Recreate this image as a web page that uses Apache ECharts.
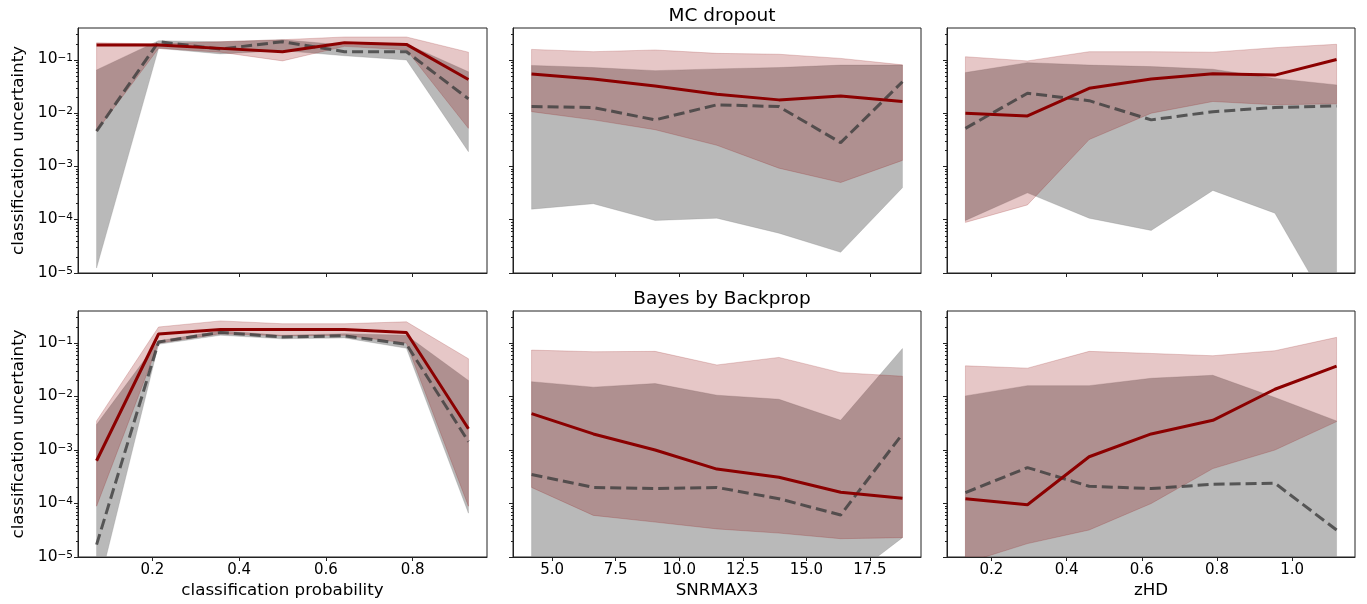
<!DOCTYPE html>
<html>
<head>
<meta charset="utf-8">
<script src="https://cdn.jsdelivr.net/npm/echarts@6/dist/echarts.min.js"></script>
<style>
  html, body { margin: 0; padding: 0; background: #fff; }
  #container { width: 1367px; height: 604px; }
</style>
</head>
<body>
<div id="container"></div>
<script>
// bin centres on the three x quantities
var xProb = [0.0714, 0.2143, 0.3571, 0.5, 0.6429, 0.7857, 0.9286];
var xSnr = [4.19, 6.62, 9.05, 11.48, 13.92, 16.35, 18.78];
var xZhd = [0.131, 0.296, 0.460, 0.625, 0.789, 0.954, 1.118];

// tick labels
var ticksProb = [0.2, 0.4, 0.6, 0.8];
var ticksSnr = [5, 7.5, 10, 12.5, 15, 17.5];
var ticksZhd = [0.2, 0.4, 0.6, 0.8, 1.0];
var yExponents = [-5, -4, -3, -2, -1];

// MC dropout - classification probability
var mcProbRed = [0.19, 0.19, 0.165, 0.143, 0.21, 0.196, 0.043];
var mcProbRedLo = [0.0046, 0.165, 0.14, 0.096, 0.18, 0.155, 0.0052];
var mcProbRedHi = [0.21, 0.2, 0.22, 0.24, 0.27, 0.27, 0.14];
var mcProbGrey = [0.0046, 0.22, 0.16, 0.22, 0.143, 0.143, 0.0186];
var mcProbGreyLo = [1.24e-5, 0.165, 0.13, 0.15, 0.12, 0.1, 0.0019];
var mcProbGreyHi = [0.065, 0.23, 0.22, 0.24, 0.19, 0.2, 0.06];

// MC dropout - SNRMAX3
var mcSnrRed = [0.0546, 0.044, 0.0325, 0.0227, 0.0178, 0.0211, 0.0166];
var mcSnrRedLo = [0.0107, 0.0075, 0.0049, 0.0025, 0.00093, 0.0005, 0.0013];
var mcSnrRedHi = [0.158, 0.143, 0.154, 0.133, 0.128, 0.107, 0.081];
var mcSnrGrey = [0.0133, 0.0128, 0.0075, 0.0144, 0.0133, 0.0028, 0.039];
var mcSnrGreyLo = [1.58e-4, 2.0e-4, 9.7e-5, 1.07e-4, 5.6e-5, 2.45e-5, 4.0e-4];
var mcSnrGreyHi = [0.079, 0.072, 0.063, 0.068, 0.072, 0.080, 0.080];

// MC dropout - zHD
var mcZRed = [0.01, 0.0089, 0.0294, 0.044, 0.055, 0.052, 0.102];
var mcZRedLo = [8.9e-5, 1.9e-4, 0.0032, 0.01, 0.0166, 0.0144, 0.015];
var mcZRedHi = [0.115, 0.096, 0.143, 0.143, 0.14, 0.17, 0.197];
var mcZGrey = [0.0052, 0.0237, 0.0172, 0.0075, 0.0107, 0.0128, 0.0137];
var mcZGreyLo = [9.7e-5, 3.2e-4, 1.07e-4, 6.3e-5, 3.55e-4, 1.33e-4, 1.3e-6];
var mcZGreyHi = [0.058, 0.089, 0.08, 0.075, 0.067, 0.045, 0.034];

// Bayes by Backprop - classification probability
var bbProbRed = [6.3e-4, 0.148, 0.18, 0.18, 0.18, 0.158, 0.0025];
var bbProbRedLo = [8.9e-5, 0.1, 0.15, 0.137, 0.14, 0.1, 8.9e-5];
var bbProbRedHi = [0.0035, 0.2, 0.26, 0.23, 0.23, 0.25, 0.051];
var bbProbGrey = [1.7e-5, 0.105, 0.158, 0.13, 0.137, 0.095, 0.00144];
var bbProbGreyLo = [1.9e-6, 0.095, 0.14, 0.12, 0.125, 0.08, 6.6e-5];
var bbProbGreyHi = [0.003, 0.11, 0.17, 0.14, 0.15, 0.14, 0.02];

// Bayes by Backprop - SNRMAX3
var bbSnrRed = [0.0048, 0.002, 0.001, 4.4e-4, 3.1e-4, 1.63e-4, 1.25e-4];
var bbSnrRedLo = [2.0e-4, 6.0e-5, 4.5e-5, 3.35e-5, 2.8e-5, 2.2e-5, 2.3e-5];
var bbSnrRedHi = [0.074, 0.069, 0.07, 0.039, 0.054, 0.028, 0.024];
var bbSnrGrey = [3.5e-4, 2.0e-4, 1.9e-4, 2.0e-4, 1.23e-4, 6.1e-5, 0.002];
var bbSnrGreyLo = [1e-6, 1e-6, 1e-6, 1e-6, 1e-6, 3e-6, 2.3e-5];
var bbSnrGreyHi = [0.019, 0.015, 0.0175, 0.0106, 0.0089, 0.0036, 0.079];

// Bayes by Backprop - zHD
var bbZRed = [1.23e-4, 9.5e-5, 7.5e-4, 0.002, 0.0036, 0.0137, 0.037];
var bbZRedLo = [7.7e-6, 1.78e-5, 3.2e-5, 1.0e-4, 4.5e-4, 0.001, 0.0034];
var bbZRedHi = [0.0376, 0.034, 0.07, 0.064, 0.058, 0.072, 0.128];
var bbZGrey = [1.6e-4, 4.7e-4, 2.1e-4, 1.9e-4, 2.3e-4, 2.4e-4, 3.2e-5];
var bbZGreyLo = [1e-6, 1e-6, 1e-6, 1e-6, 1e-6, 1e-6, 1e-6];
var bbZGreyHi = [0.0103, 0.016, 0.016, 0.022, 0.025, 0.0096, 0.0035];

var panels = [
    {x: xProb, red: mcProbRed, redLo: mcProbRedLo, redHi: mcProbRedHi, grey: mcProbGrey, greyLo: mcProbGreyLo, greyHi: mcProbGreyHi},
    {x: xSnr, red: mcSnrRed, redLo: mcSnrRedLo, redHi: mcSnrRedHi, grey: mcSnrGrey, greyLo: mcSnrGreyLo, greyHi: mcSnrGreyHi},
    {x: xZhd, red: mcZRed, redLo: mcZRedLo, redHi: mcZRedHi, grey: mcZGrey, greyLo: mcZGreyLo, greyHi: mcZGreyHi},
    {x: xProb, red: bbProbRed, redLo: bbProbRedLo, redHi: bbProbRedHi, grey: bbProbGrey, greyLo: bbProbGreyLo, greyHi: bbProbGreyHi},
    {x: xSnr, red: bbSnrRed, redLo: bbSnrRedLo, redHi: bbSnrRedHi, grey: bbSnrGrey, greyLo: bbSnrGreyLo, greyHi: bbSnrGreyHi},
    {x: xZhd, red: bbZRed, redLo: bbZRedLo, redHi: bbZRedHi, grey: bbZGrey, greyLo: bbZGreyLo, greyHi: bbZGreyHi}
];

var columns = [
    {min: 0.0286, max: 0.9714, ticks: ticksProb, name: 'classification probability'},
    {min: 3.46, max: 19.51, ticks: ticksSnr, name: 'SNRMAX3'},
    {min: 0.082, max: 1.167, ticks: ticksZhd, name: 'zHD'}
];
var gridLeft = [78, 513, 947];
var gridWidth = [409, 408, 408];
var gridTop = [28, 311];
var gridHeight = [245, 246];

var FONT = 'DejaVu Sans';
var RED = '#8b0000';
var GREY_FILL = 'rgba(128,128,128,0.55)';
var GREY_EDGE = 'rgba(128,128,128,0.25)';
var RED_FILL = 'rgba(139,0,0,0.22)';
var RED_EDGE = 'rgba(139,0,0,0.18)';
var YMIN = -5, YMAX = -0.4;

var minorTicks = [];
yExponents.forEach(function (e) {
    for (var k = 2; k <= 9; k++) {
        var v = Math.log10(k) + e;
        if (v < YMAX) minorTicks.push(v);
    }
});

function lg(v) { return Math.log10(v); }
function pairs(xs, ys) { return xs.map(function (x, i) { return [x, ys[i]]; }); }

// fill_between: one polygon per band, built from all rows of the series
function makeBandRenderer(edge) {
    return function (params, api) {
        if (params.dataIndexInside !== 0) return null;
        var n = params.dataInsideLength, top = [], bottom = [];
        for (var k = 0; k < n; k++) {
            var x = api.value(0, k);
            top.push(api.coord([x, api.value(2, k)]));
            bottom.unshift(api.coord([x, api.value(1, k)]));
        }
        var cs = params.coordSys;
        return {
            type: 'polygon',
            shape: {points: top.concat(bottom)},
            style: {fill: api.visual('color'), stroke: edge, lineWidth: 1},
            clipPath: {type: 'rect', shape: {x: cs.x, y: cs.y, width: cs.width, height: cs.height}}
        };
    };
}

var grid = [], xAxis = [], yAxis = [], series = [];
panels.forEach(function (p, i) {
    var row = Math.floor(i / 3), col = i % 3, c = columns[col];
    grid.push({left: gridLeft[col], top: gridTop[row], width: gridWidth[col], height: gridHeight[row],
        show: true, borderColor: '#222', borderWidth: 1, backgroundColor: 'transparent'});
    xAxis.push({
        type: 'value', gridIndex: i, min: c.min, max: c.max,
        name: row === 1 ? c.name : '', nameLocation: 'middle', nameGap: 25,
        nameTextStyle: {fontFamily: FONT, fontSize: 16.7, color: '#000'},
        axisLine: {lineStyle: {color: '#222', width: 1}},
        axisTick: {customValues: c.ticks, length: 4, lineStyle: {color: '#222'}},
        axisLabel: {show: row === 1, customValues: c.ticks, margin: 6,
            fontFamily: FONT, fontSize: 15, color: '#000',
            formatter: function (v) { return v.toFixed(1); }},
        splitLine: {show: false}
    });
    yAxis.push({
        type: 'value', gridIndex: i, min: YMIN, max: YMAX, position: 'left',
        name: col === 0 ? 'classification uncertainty' : '', nameLocation: 'middle', nameGap: 51,
        nameTextStyle: {fontFamily: FONT, fontSize: 16.7, color: '#000'},
        axisLine: {show: true, lineStyle: {color: '#222', width: 1}},
        axisTick: {customValues: yExponents, length: 4, lineStyle: {color: '#222'}},
        axisLabel: {show: col === 0, customValues: yExponents, margin: 5,
            formatter: function (v) { return '{b|10}{s|\u2212' + Math.abs(Math.round(v)) + '}'; },
            rich: {
                b: {fontFamily: FONT, fontSize: 15.5, lineHeight: 15, padding: [2, 0, 0, 0], verticalAlign: 'bottom', color: '#000'},
                s: {fontFamily: FONT, fontSize: 10.5, lineHeight: 10, verticalAlign: 'top', color: '#000'}
            }},
        splitLine: {show: false}
    });
    yAxis.push({
        type: 'value', gridIndex: i, min: YMIN, max: YMAX, position: 'left', offset: 0,
        axisLine: {show: false},
        axisTick: {customValues: minorTicks, length: 2, lineStyle: {color: '#222'}},
        axisLabel: {show: false},
        splitLine: {show: false}
    });

    var yi = 2 * i;
    function band(lo, hi, fill, edge) {
        series.push({
            type: 'custom', xAxisIndex: i, yAxisIndex: yi, silent: true, clip: true,
            itemStyle: {color: fill},
            encode: {x: 0, y: [1, 2]},
            data: p.x.map(function (x, k) { return [x, lg(lo[k]), lg(hi[k])]; }),
            renderItem: makeBandRenderer(edge)
        });
    }
    band(p.greyLo, p.greyHi, GREY_FILL, GREY_EDGE);
    band(p.redLo, p.redHi, RED_FILL, RED_EDGE);
    series.push({
        type: 'line', xAxisIndex: i, yAxisIndex: yi, data: pairs(p.x, p.grey.map(lg)),
        symbol: 'none', silent: true,
        lineStyle: {color: 'rgba(60,60,60,0.8)', width: 3, type: [11, 5]}
    });
    series.push({
        type: 'line', xAxisIndex: i, yAxisIndex: yi, data: pairs(p.x, p.red.map(lg)),
        symbol: 'none', silent: true,
        lineStyle: {color: RED, width: 3}
    });
});

var dom = document.getElementById('container');
var myChart = echarts.init(dom, null, {renderer: 'canvas'});
var option = {
    animation: false,
    backgroundColor: '#fff',
    title: [
        {text: 'MC dropout', left: 717, top: 2, textAlign: 'center',
            textStyle: {fontFamily: FONT, fontSize: 18.5, fontWeight: 'normal', color: '#000'}},
        {text: 'Bayes by Backprop', left: 717, top: 285, textAlign: 'center',
            textStyle: {fontFamily: FONT, fontSize: 18.5, fontWeight: 'normal', color: '#000'}}
    ],
    grid: grid,
    xAxis: xAxis,
    yAxis: yAxis,
    series: series
};
myChart.setOption(option);
</script>
</body>
</html>
